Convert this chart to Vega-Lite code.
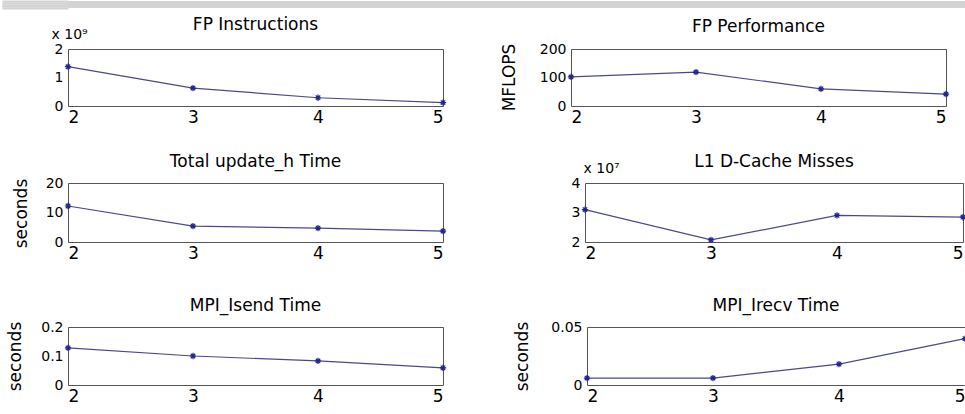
{
  "$schema": "https://vega.github.io/schema/vega-lite/v6.json",
  "padding": 0,
  "datasets": {
    "fp_instructions": [{"procs": 2, "value": 1.38}, {"procs": 3, "value": 0.63}, {"procs": 4, "value": 0.29}, {"procs": 5, "value": 0.12}],
    "fp_performance": [{"procs": 2, "value": 102}, {"procs": 3, "value": 119}, {"procs": 4, "value": 60}, {"procs": 5, "value": 42}],
    "update_h": [{"procs": 2, "value": 12.2}, {"procs": 3, "value": 5.4}, {"procs": 4, "value": 4.7}, {"procs": 5, "value": 3.7}],
    "l1_misses": [{"procs": 2, "value": 3.1}, {"procs": 3, "value": 2.07}, {"procs": 4, "value": 2.9}, {"procs": 5, "value": 2.84}],
    "isend": [{"procs": 2, "value": 0.128}, {"procs": 3, "value": 0.1}, {"procs": 4, "value": 0.083}, {"procs": 5, "value": 0.059}],
    "irecv": [{"procs": 2, "value": 0.006}, {"procs": 3, "value": 0.006}, {"procs": 4, "value": 0.018}, {"procs": 5, "value": 0.040}]
  },
  "spacing": 6,
  "vconcat": [
    {
      "width": 900, "height": 7,
      "view": {"fill": "#d3d3d3", "stroke": null},
      "data": {"values": [{}]},
      "mark": {"type": "point", "opacity": 0},
      "encoding": {
        "y": {"datum": 0.5, "type": "quantitative", "scale": {"domain": [0, 1]}, "axis": {"values": [0.0714, 0.2143, 0.3571, 0.5, 0.6429, 0.7857, 0.9286], "labels": false, "domain": false, "grid": false, "ticks": true, "tickSize": 66, "tickWidth": 2, "tickColor": "#d3d3d3", "title": null, "minExtent": 66, "maxExtent": 66}}
      }
    },
    {
      "spacing": 26,
      "vconcat": [
        {
          "spacing": 48,
          "hconcat": [
            {
              "title": {"text": "FP Instructions", "offset": -7},
              "width": 375, "height": 57,
              "data": {"name": "fp_instructions"},
              "encoding": {
                "x": {"field": "procs", "type": "quantitative", "scale": {"domain": [2, 5], "nice": false, "zero": false}, "axis": {"values": [2, 3, 4, 5], "format": "d", "title": null}},
                "y": {"field": "value", "type": "quantitative", "scale": {"domain": [0, 2], "nice": false}, "axis": {"values": [0, 1, 2], "format": "~g", "title": "x 10⁹", "titleAngle": 0, "titleX": -17, "titleY": -8, "titleAlign": "left", "titleBaseline": "bottom", "titleFontSize": 14, "minExtent": 67}}
              },
              "layer": [
                {"mark": {"type": "line", "color": "#4a4a8a", "strokeWidth": 1.2}},
                {"mark": {"type": "point", "shape": "M-1,0L1,0M0,-1L0,1M-0.7,-0.7L0.7,0.7M-0.7,0.7L0.7,-0.7", "filled": false, "color": "#22228a", "size": 40, "strokeWidth": 1.2, "opacity": 1}}
              ]
            },
            {
              "title": {"text": "FP Performance", "offset": 6},
              "width": 375, "height": 57,
              "data": {"name": "fp_performance"},
              "encoding": {
                "x": {"field": "procs", "type": "quantitative", "scale": {"domain": [2, 5], "nice": false, "zero": false}, "axis": {"values": [2, 3, 4, 5], "format": "d", "title": null}},
                "y": {"field": "value", "type": "quantitative", "scale": {"domain": [0, 200], "nice": false}, "axis": {"values": [0, 100, 200], "format": "d", "title": "MFLOPS", "titleX": -53, "titleY": 28, "minExtent": 72}}
              },
              "layer": [
                {"mark": {"type": "line", "color": "#4a4a8a", "strokeWidth": 1.2}},
                {"mark": {"type": "point", "shape": "M-1,0L1,0M0,-1L0,1M-0.7,-0.7L0.7,0.7M-0.7,0.7L0.7,-0.7", "filled": false, "color": "#22228a", "size": 40, "strokeWidth": 1.2, "opacity": 1}}
              ]
            }
          ]
        },
        {
          "spacing": 34,
          "vconcat": [
            {
              "spacing": 62,
              "hconcat": [
                {
                  "title": "Total update_h Time",
                  "width": 375, "height": 59,
                  "data": {"name": "update_h"},
                  "encoding": {
                    "x": {"field": "procs", "type": "quantitative", "scale": {"domain": [2, 5], "nice": false, "zero": false}, "axis": {"values": [2, 3, 4, 5], "format": "d", "title": null}},
                    "y": {"field": "value", "type": "quantitative", "scale": {"domain": [0, 20], "nice": false}, "axis": {"values": [0, 10, 20], "format": "d", "title": "seconds", "titleX": -38, "titleY": 30, "minExtent": 67}}
                  },
                  "layer": [
                    {"mark": {"type": "line", "color": "#4a4a8a", "strokeWidth": 1.2}},
                    {"mark": {"type": "point", "shape": "M-1,0L1,0M0,-1L0,1M-0.7,-0.7L0.7,0.7M-0.7,0.7L0.7,-0.7", "filled": false, "color": "#22228a", "size": 40, "strokeWidth": 1.2, "opacity": 1}}
                  ]
                },
                {
                  "title": {"text": "L1 D-Cache Misses", "offset": -10},
                  "width": 378, "height": 59,
                  "data": {"name": "l1_misses"},
                  "encoding": {
                    "x": {"field": "procs", "type": "quantitative", "scale": {"domain": [2, 5], "nice": false, "zero": false}, "axis": {"values": [2, 3, 4, 5], "format": "d", "title": null}},
                    "y": {"field": "value", "type": "quantitative", "scale": {"domain": [2, 4], "nice": false, "zero": false}, "axis": {"values": [2, 3, 4], "format": "~g", "labelOverlap": false, "title": "x 10⁷", "titleAngle": 0, "titleX": -2, "titleY": -8, "titleAlign": "left", "titleBaseline": "bottom", "titleFontSize": 14, "minExtent": 72}}
                  },
                  "layer": [
                    {"mark": {"type": "line", "color": "#4a4a8a", "strokeWidth": 1.2}},
                    {"mark": {"type": "point", "shape": "M-1,0L1,0M0,-1L0,1M-0.7,-0.7L0.7,0.7M-0.7,0.7L0.7,-0.7", "filled": false, "color": "#22228a", "size": 40, "strokeWidth": 1.2, "opacity": 1}}
                  ]
                }
              ]
            },
            {
              "spacing": 62,
              "hconcat": [
                {
                  "title": "MPI_Isend Time",
                  "width": 375, "height": 58,
                  "data": {"name": "isend"},
                  "encoding": {
                    "x": {"field": "procs", "type": "quantitative", "scale": {"domain": [2, 5], "nice": false, "zero": false}, "axis": {"values": [2, 3, 4, 5], "format": "d", "title": null}},
                    "y": {"field": "value", "type": "quantitative", "scale": {"domain": [0, 0.2], "nice": false}, "axis": {"values": [0, 0.1, 0.2], "format": "~g", "title": "seconds", "titleX": -44, "titleY": 29, "minExtent": 67}}
                  },
                  "layer": [
                    {"mark": {"type": "line", "color": "#4a4a8a", "strokeWidth": 1.2}},
                    {"mark": {"type": "point", "shape": "M-1,0L1,0M0,-1L0,1M-0.7,-0.7L0.7,0.7M-0.7,0.7L0.7,-0.7", "filled": false, "color": "#22228a", "size": 40, "strokeWidth": 1.2, "opacity": 1}}
                  ]
                },
                {
                  "title": "MPI_Irecv Time",
                  "width": 378, "height": 58,
                  "data": {"name": "irecv"},
                  "encoding": {
                    "x": {"field": "procs", "type": "quantitative", "scale": {"domain": [2, 5], "nice": false, "zero": false}, "axis": {"values": [2, 3, 4, 5], "format": "d", "title": null}},
                    "y": {"field": "value", "type": "quantitative", "scale": {"domain": [0, 0.05], "nice": false}, "axis": {"values": [0, 0.05], "format": "~g", "title": "seconds", "titleX": -56, "titleY": 29, "minExtent": 72}}
                  },
                  "layer": [
                    {"mark": {"type": "line", "color": "#4a4a8a", "strokeWidth": 1.2}},
                    {"mark": {"type": "point", "shape": "M-1,0L1,0M0,-1L0,1M-0.7,-0.7L0.7,0.7M-0.7,0.7L0.7,-0.7", "filled": false, "color": "#22228a", "size": 40, "strokeWidth": 1.2, "opacity": 1}}
                  ]
                }
              ]
            }
          ]
        }
      ]
    }
  ],
  "config": {
    "font": "DejaVu Sans",
    "background": "white",
    "view": {"stroke": "#555", "strokeWidth": 1},
    "axis": {"domain": false, "ticks": false, "grid": false, "labelOverlap": false, "labelColor": "#000", "titleColor": "#000", "titleFontWeight": "normal", "labelFontSize": 14, "titleFontSize": 17, "labelFont": "DejaVu Sans", "titleFont": "DejaVu Sans"},
    "axisX": {"labelFontSize": 17, "labelPadding": 3},
    "axisY": {"labelPadding": 5},
    "title": {"fontSize": 17, "fontWeight": "normal", "offset": 5, "frame": "group", "color": "#000", "font": "DejaVu Sans"}
  }
}
